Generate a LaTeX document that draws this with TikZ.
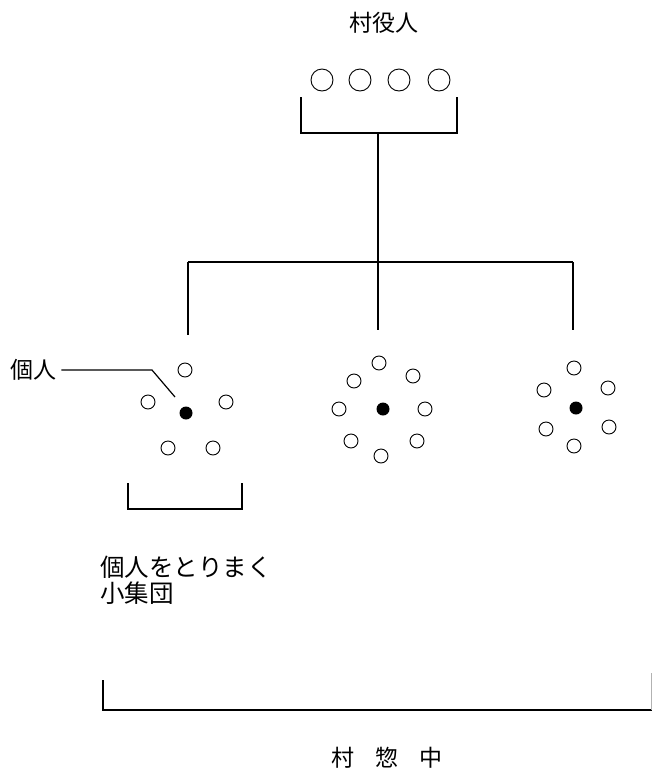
\documentclass[tikz,border=0pt]{standalone}
\usepackage{fontspec}
\setmainfont{Noto Sans CJK JP}
\begin{document}
\begin{tikzpicture}[x=1pt,y=-1pt,
  lbl/.style={inner sep=0pt,font=\fontsize{23}{28}\selectfont},
  lblw/.style={inner sep=0pt,font=\fontsize{24.5}{28}\selectfont},
  opn/.style={circle,draw,line width=0.9pt,minimum size=14pt,inner sep=0pt},
  bigc/.style={circle,draw,line width=0.9pt,minimum size=22pt,inner sep=0pt},
  dotc/.style={circle,fill,minimum size=13pt,inner sep=0pt},
  ln/.style={line width=1.2pt}]
\useasboundingbox (0,0) rectangle (652,769);
% title
\node[lbl] (title) at (384,23) {村役人};
% officials
\node[bigc] (o1) at (322,80) {};
\node[bigc] (o2) at (360,80) {};
\node[bigc] (o3) at (399,80) {};
\node[bigc] (o4) at (439,80) {};
\coordinate (bl) at (301,97);
\coordinate (br) at (457,97);
\coordinate (bm) at (378,133);
\draw[ln] (bl) -- (301,133) -- (457,133) -- (br);
\coordinate (hm) at (378,262);
\coordinate (hl) at (188,262);
\coordinate (hr) at (573,262);
\draw[ln] (bm) -- (hm);
\draw[ln] (hl) -- (hr);
\coordinate (d1) at (188,335);
\coordinate (d2) at (378,330);
\coordinate (d3) at (573,330);
\draw[ln] (hl) -- (d1);
\draw[ln] (hm) -- (d2);
\draw[ln] (hr) -- (d3);
% group 1
\node[dotc] (c1) at (186,413) {};
\node[opn] (a1) at (185,370) {};
\node[opn] (a2) at (148,402) {};
\node[opn] (a3) at (226,402) {};
\node[opn] (a4) at (168,448) {};
\node[opn] (a5) at (213,448) {};
% individual label
\node[lbl,anchor=west] (kojin) at (10,370) {個人};
\coordinate (kb) at (152,370);
\coordinate (kt) at (175,397);
\draw[ln] ([xshift=5pt]kojin.east) -- (kb) -- (kt);
% group 2
\node[dotc] (c2) at (383,409) {};
\node[opn] (b1) at (379,363) {};
\node[opn] (b2) at (354,381) {};
\node[opn] (b3) at (413,376) {};
\node[opn] (b4) at (339,409) {};
\node[opn] (b5) at (425,409) {};
\node[opn] (b6) at (351,441) {};
\node[opn] (b7) at (417,441) {};
\node[opn] (b8) at (381,456) {};
% group 3
\node[dotc] (c3) at (576,408) {};
\node[opn] (e1) at (574,368) {};
\node[opn] (e2) at (544,390) {};
\node[opn] (e3) at (608,388) {};
\node[opn] (e4) at (546,429) {};
\node[opn] (e5) at (609,427) {};
\node[opn] (e6) at (574,446) {};
% small bracket
\coordinate (sl) at (128,483);
\coordinate (sr) at (242,483);
\draw[ln] (sl) -- (128,509) -- (242,509) -- (sr);
\node[lblw,anchor=west] (grp1) at (100,567) {個人をとりまく};
\node[lblw,anchor=west] (grp2) at (100,593) {小集団};
% big bracket
\coordinate (gl) at (103,680);
\coordinate (gr) at (651,673);
\draw[ln] (gl) -- (103,710) -- (652,710);
\draw[line width=0.5pt,black!30] (gr) -- (651,710);
\node[lbl] (sou) at (387,758) {村\hspace{0.9em}惣\hspace{0.9em}中};
\end{tikzpicture}
\end{document}
